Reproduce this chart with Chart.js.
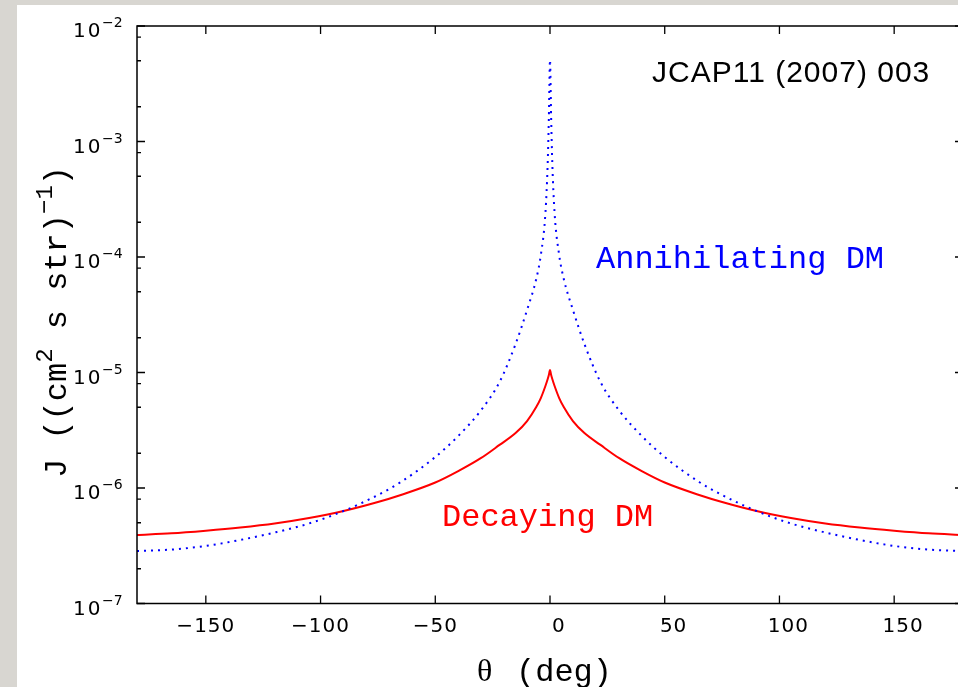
<!DOCTYPE html>
<html>
<head>
<meta charset="utf-8">
<script src="https://cdn.jsdelivr.net/npm/chart.js@4.4.0/dist/chart.umd.min.js"></script>
<style>
  html, body { margin: 0; padding: 0; width: 958px; height: 687px; overflow: hidden; background: #d8d6d1; }
  #panel { position: absolute; left: 17px; top: 5px; width: 1000px; height: 700px; background: #fff; }
  #wrap { position: absolute; left: 0; top: 0; width: 980px; height: 687px; }
</style>
</head>
<body>
<div id="panel"></div>
<div id="wrap"><canvas id="chart" width="980" height="687"></canvas></div>
<script>
// angle from the galactic centre (deg)
const theta = [-180, -165, -150, -135, -120, -105, -90, -75, -65, -50, -40, -30, -22, -15, -10, -6, -4, -2, -1, -0.5,
  0, 0.5, 1, 2, 4, 6, 10, 15, 22, 30, 40, 50, 65, 75, 90, 105, 120, 135, 150, 165, 180];

// J for annihilating DM (blue dotted)
const annihilating = [2.85e-7, 2.93e-7, 3.15e-7, 3.55e-7, 4.12e-7, 4.93e-7, 6.32e-7, 8.70e-7, 1.127e-6, 1.855e-6,
  2.82e-6, 4.73e-6, 8.27e-6, 1.765e-5, 3.48e-5, 6.45e-5, 1.04e-4, 2.40e-4, 6.51e-4, 1.60e-3,
  5.08e-3,
  1.60e-3, 6.51e-4, 2.40e-4, 1.04e-4, 6.45e-5, 3.48e-5, 1.765e-5, 8.27e-6, 4.73e-6, 2.82e-6,
  1.855e-6, 1.127e-6, 8.70e-7, 6.32e-7, 4.93e-7, 4.12e-7, 3.55e-7, 3.15e-7, 2.93e-7, 2.85e-7];

// J for decaying DM (red solid)
const decaying = [3.92e-7, 4.05e-7, 4.27e-7, 4.55e-7, 4.93e-7, 5.50e-7, 6.32e-7, 7.56e-7, 8.70e-7, 1.115e-6,
  1.40e-6, 1.82e-6, 2.36e-6, 2.99e-6, 3.80e-6, 5.03e-6, 6.01e-6, 7.64e-6, 8.78e-6, 9.51e-6,
  1.051e-5,
  9.51e-6, 8.78e-6, 7.64e-6, 6.01e-6, 5.03e-6, 3.80e-6, 2.99e-6, 2.36e-6, 1.82e-6, 1.40e-6,
  1.115e-6, 8.70e-7, 7.56e-7, 6.32e-7, 5.50e-7, 4.93e-7, 4.55e-7, 4.27e-7, 4.05e-7, 3.92e-7];

const xTicks = [-150, -100, -50, 0, 50, 100, 150];
const yPowers = [-7, -6, -5, -4, -3, -2];
const yMinorFactors = [2, 5, 8];

// log ticks: decades plus the 2,5,8 minors
const yTicks = [];
yPowers.forEach(p => {
  yTicks.push({ value: Math.pow(10, p), major: true });
  if (p < -2) yMinorFactors.forEach(f => yTicks.push({ value: f * Math.pow(10, p), major: false }));
});

const framePlugin = {
  id: 'frame',
  afterDraw(chart) {
    const { ctx, chartArea: a, scales: { x, y } } = chart;
    ctx.save();
    ctx.strokeStyle = '#000';
    ctx.lineWidth = 1.5;
    ctx.strokeRect(a.left, a.top, a.right - a.left, a.bottom - a.top);

    // inward ticks on all four sides
    ctx.lineWidth = 1.3;
    ctx.beginPath();
    x.ticks.forEach(t => {
      const px = x.getPixelForValue(t.value);
      ctx.moveTo(px, a.bottom); ctx.lineTo(px, a.bottom - 8);
      ctx.moveTo(px, a.top); ctx.lineTo(px, a.top + 8);
    });
    y.ticks.forEach(t => {
      const py = y.getPixelForValue(t.value);
      const len = t.major ? 8 : 4;
      ctx.moveTo(a.left, py); ctx.lineTo(a.left + len, py);
      ctx.moveTo(a.right, py); ctx.lineTo(a.right - len, py);
    });
    ctx.stroke();

    ctx.fillStyle = '#000';
    ctx.textBaseline = 'alphabetic';

    // x tick labels
    ctx.font = '20px "DejaVu Sans"';
    ctx.letterSpacing = '1px';
    ctx.textAlign = 'center';
    const halfMinus = ctx.measureText('\u2212').width / 2;
    x.ticks.forEach(t => {
      const px = x.getPixelForValue(t.value);
      const s = t.value < 0 ? '\u2212' + Math.abs(t.value) : String(t.value);
      ctx.fillText(s, px + (t.value < 0 ? 0 : halfMinus), a.bottom + 28);
    });

    // y tick labels 10^n
    ctx.textAlign = 'left';
    y.ticks.forEach(t => {
      if (!t.major) return;
      const py = y.getPixelForValue(t.value);
      const p = Math.round(Math.log10(t.value));
      ctx.font = '20px "DejaVu Sans"';
      ctx.letterSpacing = '2px';
      ctx.fillText('10', 73, py + 11);
      ctx.font = '14px "DejaVu Sans"';
      ctx.letterSpacing = '0px';
      ctx.fillText('\u2212' + Math.abs(p), 102, py + 1);
    });

    // y axis title, rotated
    ctx.save();
    ctx.translate(66, 322);
    ctx.rotate(-Math.PI / 2);
    const parts = [['J ((cm', 0], ['2', 1], [' s str)', 0], ['\u22121', 1], [')', 0]];
    const fontFor = sup => sup ? '24px "Liberation Mono"' : '32px "Liberation Mono"';
    let total = 0;
    parts.forEach(([s, sup]) => { ctx.font = fontFor(sup); total += ctx.measureText(s).width; });
    let cx = -total / 2;
    parts.forEach(([s, sup]) => {
      ctx.font = fontFor(sup);
      ctx.fillText(s, cx, sup ? -14 : 0);
      cx += ctx.measureText(s).width;
    });
    ctx.restore();

    // x axis title
    ctx.font = '32px "Liberation Serif"';
    ctx.fillText('\u03b8', 477, 681);
    ctx.font = '32px "Liberation Mono"';
    ctx.fillText('(deg)', 516, 681);

    // annotations
    ctx.font = '30px "Liberation Sans"';
    ctx.letterSpacing = '1px';
    ctx.fillText('JCAP11 (2007) 003', 652, 82);
    ctx.letterSpacing = '0px';
    ctx.font = '32px "Liberation Mono"';
    ctx.fillStyle = '#0000ff';
    ctx.fillText('Annihilating DM', 596, 268);
    ctx.fillStyle = '#ff0000';
    ctx.fillText('Decaying DM', 442, 526);
    ctx.restore();
  }
};

new Chart(document.getElementById('chart').getContext('2d'), {
  type: 'line',
  data: {
    datasets: [{
      label: 'Annihilating DM',
      data: theta.map((t, i) => ({ x: t, y: annihilating[i] })),
      borderColor: '#0000ff',
      borderWidth: 2,
      borderDash: [2, 5],
      pointRadius: 0,
      cubicInterpolationMode: 'monotone',
      fill: false
    }, {
      label: 'Decaying DM',
      data: theta.map((t, i) => ({ x: t, y: decaying[i] })),
      borderColor: '#ff0000',
      borderWidth: 2,
      pointRadius: 0,
      cubicInterpolationMode: 'monotone',
      fill: false
    }]
  },
  options: {
    responsive: false,
    animation: false,
    devicePixelRatio: 1,
    layout: { padding: { left: 137, top: 26, right: 17, bottom: 83.5 } },
    plugins: { legend: { display: false }, tooltip: { enabled: false } },
    scales: {
      x: {
        type: 'linear',
        min: -180,
        max: 180,
        grid: { display: false, drawTicks: false },
        border: { display: false },
        ticks: { display: false },
        afterBuildTicks: s => { s.ticks = xTicks.map(v => ({ value: v })); },
        afterFit: s => { s.height = 0; }
      },
      y: {
        type: 'logarithmic',
        min: 1e-7,
        max: 1e-2,
        grid: { display: false, drawTicks: false },
        border: { display: false },
        ticks: { display: false },
        afterBuildTicks: s => { s.ticks = yTicks.map(t => ({ value: t.value, major: t.major })); },
        afterFit: s => { s.width = 0; }
      }
    }
  },
  plugins: [framePlugin]
});
</script>
</body>
</html>
